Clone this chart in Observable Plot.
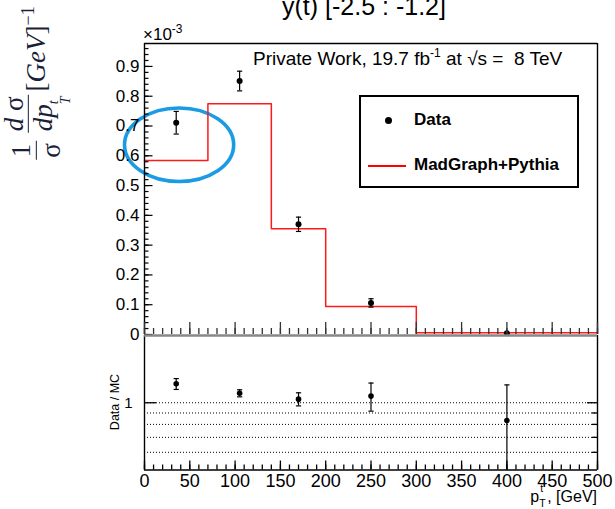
<!DOCTYPE html>
<html>
<head>
<meta charset="utf-8">
<script src="https://cdn.jsdelivr.net/npm/d3@7"></script>
<script src="https://cdn.jsdelivr.net/npm/@observablehq/plot@0.6"></script>
<style>
  body { margin: 0; background: #fff; }
  #wrap { position: relative; width: 615px; height: 509px; overflow: hidden; background: #fff;
          font-family: "Liberation Sans", Arial, sans-serif; color: #000; }
  .t { position: absolute; line-height: 1; white-space: nowrap; }
  .pl { position: absolute; left: 0; }
  .frac { display: inline-flex; flex-direction: column; align-items: center; line-height: 1.05; }
  .den { border-top: 1.6px solid currentColor; padding: 0 2px; }
</style>
</head>
<body>
<div id="wrap">
  <div id="topPanel" class="pl" style="top:0"></div>
  <div id="botPanel" class="pl" style="top:330px"></div>

  <div class="t" style="left:364px; top:-6px; font-size:25px; transform:translateX(-50%)">y(t) [-2.5 : -1.2]</div>

  <div class="t" style="left:143px; top:26px; font-size:17px">×10<span style="font-size:12px; position:relative; top:-7px">-3</span></div>

  <div class="t" style="left:253px; top:49px; font-size:19px">Private Work, 19.7 fb<span style="font-size:12px; position:relative; top:-8px">-1</span> at &#x221A;s =&nbsp; 8 TeV</div>

  <div id="legend" class="t" style="left:359px; top:95px; width:216px; height:89px; border:2px solid #000; background:#fff"></div>
  <div class="t" style="left:384.5px; top:116.5px; width:7px; height:7px; border-radius:50%; background:#000"></div>
  <div class="t" style="left:414px; top:110.6px; font-size:17px; font-weight:bold">Data</div>
  <div class="t" style="left:368px; top:165px; width:38px; height:2px; background:#ff0000"></div>
  <div class="t" style="left:414px; top:156.3px; font-size:17px; font-weight:bold">MadGraph+Pythia</div>

  <div class="t" style="left:115px; top:402px; font-size:12.5px; transform:translate(-50%,-50%) rotate(-90deg)">Data / MC</div>

  <div class="t" style="right:18px; top:489px; font-size:16px">p<span style="position:relative; display:inline-block; width:8px; height:10px; font-size:10.5px"><span style="position:absolute; left:1px; top:-9px">t</span><span style="position:absolute; left:0; top:6px">T</span></span>, [GeV]</div>

  <div id="ylab" class="t" style="left:36px; top:83px; transform:translate(-50%,-50%) rotate(-90deg); display:flex; align-items:center; font-family:'Liberation Serif','Times New Roman',serif; font-size:27px; color:#1b1f3a">
    <span class="frac"><span>1</span><span class="den">&#x3C3;</span></span>
    <span class="frac" style="margin-left:8px"><span><i>d</i>&nbsp;&#x3C3;</span><span class="den"><i>dp</i><span style="display:inline-flex; flex-direction:column; font-size:14px; line-height:12px; vertical-align:-6px"><i>t</i><i>T</i></span></span></span>
    <span style="margin-left:3px">[<i>GeV</i>]<span style="font-size:18px; position:relative; top:-11px">&#x2212;1</span></span>
  </div>
</div>

<script>
// ---------------- data ----------------
const binEdges   = [0, 70, 140, 200, 300, 500];          // GeV
const mcValues   = [0.584, 0.775, 0.355, 0.094, 0.006];  // x10^-3 GeV^-1 (MadGraph+Pythia)
const dataX      = [35, 105, 170, 250, 400];             // GeV
const dataY      = [0.711, 0.851, 0.370, 0.106, 0.004];  // x10^-3
const dataErr    = [0.038, 0.033, 0.024, 0.014, 0.0];
const ratioY     = [1.215, 1.103, 1.038, 1.071, 0.832];  // Data / MC
const ratioErr   = [0.068, 0.040, 0.070, 0.154, 0.370];
const ratioLines = [1, 0.9, 0.8, 0.7, 0.6];
const yTickLabels = [0, 0.1, 0.2, 0.3, 0.4, 0.5, 0.6, 0.7, 0.8, 0.9];
const xTickLabels = [0, 50, 100, 150, 200, 250, 300, 350, 400, 450, 500];
const yMinorTicks = d3.range(0, 0.97, 0.02);
const xMinorTicks = d3.range(0, 501, 10);
const highlight  = [{x1: -21.5, x2: 99, y1: 0.512, y2: 0.759}]; // blue annotation ellipse

// ---------------- derived tables ----------------
const mcSteps = binEdges.map((x, i) => ({x, y: mcValues[Math.min(i, mcValues.length - 1)]}));
const pts = dataX.map((x, i) => ({x, y: dataY[i], lo: dataY[i] - dataErr[i], hi: dataY[i] + dataErr[i], e: dataErr[i]}));
const rpts = dataX.map((x, i) => ({x, y: ratioY[i], lo: ratioY[i] - ratioErr[i], hi: ratioY[i] + ratioErr[i]}));

const capSymbol = { draw(ctx, size) { const r = Math.sqrt(size / Math.PI); ctx.moveTo(-r, 0); ctx.lineTo(r, 0); } };
const font = "Liberation Sans, Arial, sans-serif";
const yTop = 0.977;

const topPlot = Plot.plot({
  width: 615, height: 336,
  marginLeft: 144, marginRight: 18, marginTop: 43, marginBottom: 2,
  style: {background: "transparent", fontFamily: font, overflow: "visible"},
  x: {domain: [0, 500], axis: null},
  y: {domain: [0, yTop], axis: null},
  marks: [
    Plot.rect(highlight, {x1: "x1", x2: "x2", y1: "y1", y2: "y2", rx: 54.6, ry: 36.8,
      fill: "none", stroke: "#1a9be3", strokeWidth: 3.6}),
    Plot.line(mcSteps, {x: "x", y: "y", curve: "step-after", stroke: "#ff1a1a", strokeWidth: 1.5}),
    Plot.ruleX(pts.filter(d => d.e > 0), {x: "x", y1: "lo", y2: "hi", stroke: "#000", strokeWidth: 1.2}),
    Plot.dot(pts.filter(d => d.e > 0), {x: "x", y: "hi", symbol: capSymbol, r: 2.6, stroke: "#000", fill: "none", strokeWidth: 1.2}),
    Plot.dot(pts.filter(d => d.e > 0), {x: "x", y: "lo", symbol: capSymbol, r: 2.6, stroke: "#000", fill: "none", strokeWidth: 1.2}),
    Plot.dot(pts, {x: "x", y: "y", r: 3, fill: "#000"}),
    // frame
    Plot.ruleX([0], {stroke: "#000", strokeWidth: 1.4}),
    Plot.ruleX([500], {stroke: "#000", strokeWidth: 1.4}),
    Plot.ruleY([yTop], {stroke: "#000", strokeWidth: 1.4}),
    // axes (ROOT-style inward ticks)
    Plot.axisY(yTickLabels, {anchor: "left", tickSize: -8.5, fill: "none", label: null, strokeWidth: 1.2}),
    Plot.axisY(yMinorTicks, {anchor: "left", tickSize: -4.5, fill: "none", label: null, strokeWidth: 1.2}),
    Plot.axisY(yTickLabels, {anchor: "left", tickSize: 0, tickPadding: 5, fontSize: 17, label: null,
      tickFormat: d => d === 0 ? "0" : d.toFixed(1)}),
    Plot.axisX(xTickLabels, {anchor: "bottom", tickSize: -12, fill: "none", label: null, stroke: "#333", strokeWidth: 1.3}),
    Plot.axisX(xMinorTicks, {anchor: "bottom", tickSize: -6, fill: "none", label: null, stroke: "#333", strokeWidth: 1.3})
  ]
});
document.getElementById("topPanel").append(topPlot);

const botPlot = Plot.plot({
  width: 615, height: 179,
  marginLeft: 144, marginRight: 18, marginTop: 5, marginBottom: 39.5,
  style: {background: "transparent", fontFamily: font, overflow: "visible"},
  x: {domain: [0, 500], axis: null},
  y: {type: "log", domain: [0.5, 2], axis: null},
  marks: [
    Plot.ruleY(ratioLines, {stroke: "#000", strokeWidth: 1, strokeDasharray: "1,2"}),
    Plot.ruleX(rpts, {x: "x", y1: "lo", y2: "hi", stroke: "#000", strokeWidth: 1.2, clip: true}),
    Plot.dot(rpts, {x: "x", y: "hi", symbol: capSymbol, r: 2.6, stroke: "#000", fill: "none", strokeWidth: 1.2}),
    Plot.dot(rpts.filter(d => d.lo > 0.5), {x: "x", y: "lo", symbol: capSymbol, r: 2.6, stroke: "#000", fill: "none", strokeWidth: 1.2}),
    Plot.dot(rpts, {x: "x", y: "y", r: 2.8, fill: "#000"}),
    // frame
    Plot.ruleX([0], {stroke: "#000", strokeWidth: 1.4}),
    Plot.ruleX([500], {stroke: "#000", strokeWidth: 1.4}),
    Plot.ruleY([0.5], {stroke: "#000", strokeWidth: 1.4}),
    Plot.ruleY([2], {stroke: "#888", strokeWidth: 2.6}),
    // axes
    Plot.axisY([1], {anchor: "left", tickSize: -12, fill: "none", label: null, strokeWidth: 1.3}),
    Plot.axisY([1], {anchor: "left", tickSize: 0, tickPadding: 12, fontSize: 15, label: null, tickFormat: d => String(d)}),
    Plot.axisY([1], {anchor: "right", tickSize: -11, fill: "none", label: null, strokeWidth: 1.3}),
    Plot.axisY(ratioLines.slice(1), {anchor: "right", tickSize: -6, fill: "none", label: null, strokeWidth: 1.3}),
    Plot.axisX(xTickLabels, {anchor: "bottom", tickSize: -9, fill: "none", label: null, strokeWidth: 1.3}),
    Plot.axisX(xMinorTicks, {anchor: "bottom", tickSize: -5, fill: "none", label: null, strokeWidth: 1.3}),
    Plot.axisX(xTickLabels, {anchor: "bottom", tickSize: 0, tickPadding: 4.5, fontSize: 18, label: null,
      tickFormat: d => String(d)})
  ]
});
document.getElementById("botPanel").append(botPlot);
</script>
</body>
</html>
